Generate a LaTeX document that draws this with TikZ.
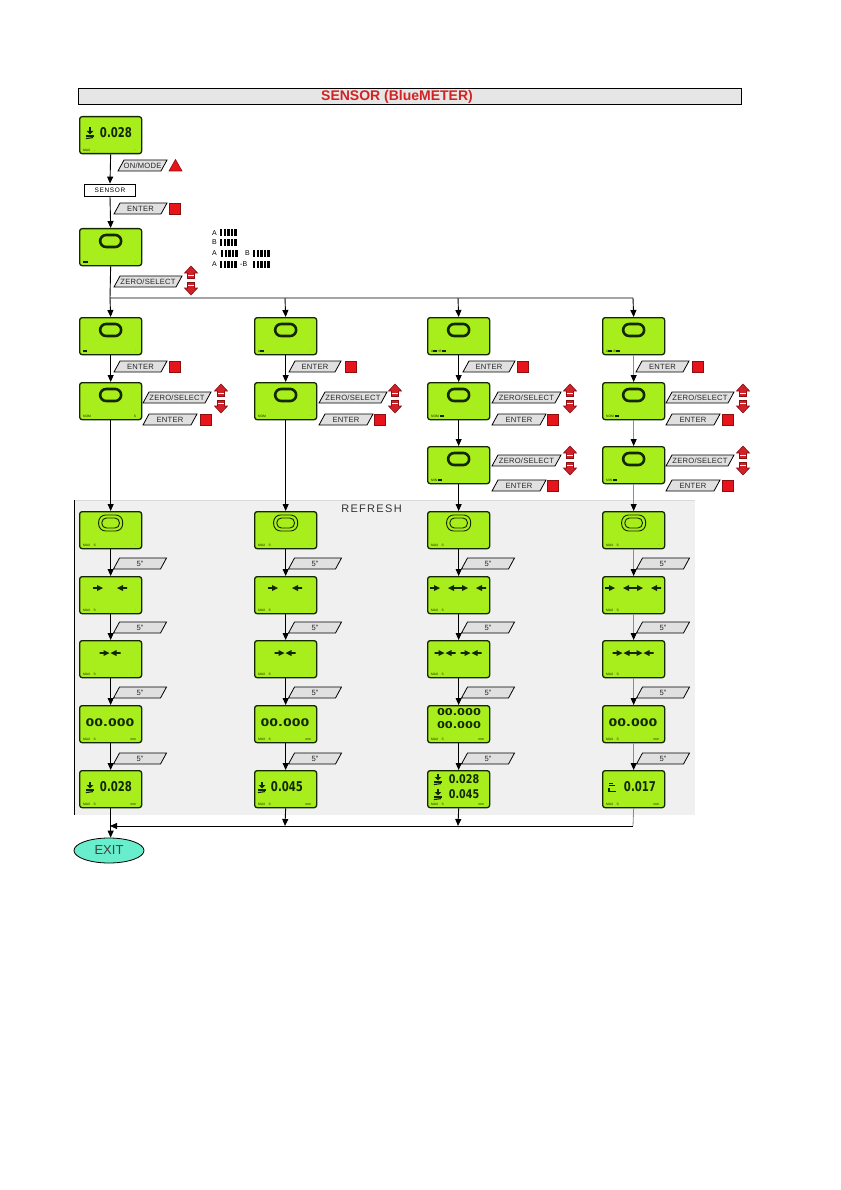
\documentclass[tikz,border=0pt]{standalone}
\usepackage{fontspec}
\setmainfont{Liberation Sans}
\newfontfamily\lcdfont{DejaVu Sans}
\usetikzlibrary{arrows.meta,calc,shapes.geometric}
\definecolor{lcd}{HTML}{A8EE1C}
\definecolor{lcdline}{HTML}{132800}
\definecolor{btngray}{HTML}{E0E0E0}
\definecolor{keyred}{HTML}{E8141B}
\definecolor{keyred2}{HTML}{D0202A}
\definecolor{keydark}{HTML}{8A1010}
\definecolor{hdrgray}{HTML}{E6E6E6}
\definecolor{hdrred}{HTML}{D42222}
\definecolor{refgray}{HTML}{F0F0F0}
\definecolor{exitc}{HTML}{68EECC}
\definecolor{linegray}{HTML}{8C8C8C}
\tikzset{
 lcdbox/.style={draw=lcdline, fill=lcd, line width=1.3pt, rounded corners=2.5pt, minimum width=62pt, minimum height=37pt, inner sep=0pt, anchor=north west},
 flow/.style={line width=0.9pt, -{Triangle[length=7pt,width=6pt]}},
 flowg/.style={line width=0.8pt, draw=linegray, -{Triangle[length=7pt,width=6pt,color=black]}},
 plain/.style={line width=0.9pt},
 btnshape/.style={draw=black, fill=btngray, line width=0.8pt},
 btntext/.style={font=\fontsize{7.6}{8}\selectfont\addfontfeatures{LetterSpace=3}, text=black!85, inner sep=0pt},
 keysq/.style={draw=keydark, fill=keyred, line width=0.6pt, minimum size=11pt, inner sep=0pt, anchor=north west},
 tinytxt/.style={font=\fontsize{3.3}{4}\selectfont, text=lcdline, inner sep=0pt},
 ovalst/.style={draw=lcdline, line width=2.6pt, rounded corners=6pt, minimum width=21pt, minimum height=12pt, inner sep=0pt},
 dov/.style={draw=lcdline, line width=0.9pt, inner sep=0pt},
 valtxt/.style={font=\lcdfont\bfseries\fontsize{13.5}{14}\selectfont, text=lcdline, inner sep=0pt},
 valsm/.style={font=\lcdfont\bfseries\fontsize{12}{12}\selectfont, text=lcdline, inner sep=0pt},
 zerotxt/.style={font=\lcdfont\bfseries\fontsize{10.5}{11}\selectfont, text=lcdline, inner sep=0pt},
 zerosm/.style={font=\lcdfont\bfseries\fontsize{9.5}{10}\selectfont, text=lcdline, inner sep=0pt},
 legtxt/.style={font=\fontsize{7}{8}\selectfont, inner sep=0pt, anchor=west},
}
\newcommand\tb{\rule{0.7pt}{2.3pt}\kern0.3pt}
\newcommand\lcd[3]{\node[lcdbox] (#1) at (#2,#3) {};}
\newcommand\ovl[1]{\node[ovalst] (#1ov) at ($(#1.north)+(0,13)$) {};}
\newcommand\dovl[1]{\node[dov, minimum width=24pt, minimum height=16pt, rounded corners=7pt] (#1ova) at ($(#1.north)+(0,12)$) {};%
 \node[dov, minimum width=17.5pt, minimum height=10pt, rounded corners=4.5pt] (#1ovb) at ($(#1.north)+(0,12)$) {};}
\newcommand\foot[3]{\node[tinytxt,anchor=south west] (#1fl) at ($(#1.south west)+(4,-3)$) {#2};%
 \node[tinytxt,anchor=south east] (#1fr) at ($(#1.south east)+(-6,-3)$) {#3};}
\newcommand\btn[5]{\draw[btnshape] (#2,#3+11) -- (#2+6,#3) -- (#2+#4,#3) -- (#2+#4-6,#3+11) -- cycle;%
 \node[btntext] (#1) at (#2+#4/2,#3+5.7) {#5};}
\newcommand\keysquare[3]{\node[keysq] (#1) at (#2,#3) {};}
\newcommand\updown[2]{%
 \filldraw[fill=keyred2, draw=keydark, line width=0.6pt] (#1,#2) -- (#1+6.5,#2+7) -- (#1+3.5,#2+7) -- (#1+3.5,#2+12.5) -- (#1-3.5,#2+12.5) -- (#1-3.5,#2+7) -- (#1-6.5,#2+7) -- cycle;
 \filldraw[fill=keyred2, draw=keydark, line width=0.6pt] (#1,#2+29) -- (#1+6.5,#2+22) -- (#1+3.5,#2+22) -- (#1+3.5,#2+16.5) -- (#1-3.5,#2+16.5) -- (#1-3.5,#2+22) -- (#1-6.5,#2+22) -- cycle;
 \fill[white] (#1-2.6,#2+8.8) rectangle (#1+2.6,#2+10);
 \fill[white] (#1-2.6,#2+19) rectangle (#1+2.6,#2+20.2);}
\newcommand\rA[2]{\fill[lcdline] (#1,#2) -- ++(-6,-3) -- ++(0,2.1) -- ++(-4,0) -- ++(0,1.8) -- ++(4,0) -- ++(0,2.1) -- cycle;}
\newcommand\lA[2]{\fill[lcdline] (#1,#2) -- ++(6,-3) -- ++(0,2.1) -- ++(4,0) -- ++(0,1.8) -- ++(-4,0) -- ++(0,2.1) -- cycle;}
\newcommand\probe[2]{%
 \fill[lcdline] (#1-1.1,#2-5.5) rectangle (#1+1.1,#2-1.5);
 \fill[lcdline] (#1-3.4,#2-2) -- (#1+3.4,#2-2) -- (#1,#2+1.4) -- cycle;
 \fill[lcdline] (#1-4.2,#2+2.3) rectangle (#1+4.2,#2+3.6);
 \draw[lcdline,line width=1.1pt] (#1-4.2,#2+5.6) -- (#1+3,#2+4.6);}
\newcommand\probeB[2]{%
 \fill[lcdline] (#1-3,#2-4.5) rectangle (#1+1,#2-3.3);
 \fill[lcdline] (#1-3,#2-2) rectangle (#1+3,#2-0.8);
 \draw[lcdline,line width=1.1pt] (#1-3,#2+1) -- (#1-3,#2+4.5) -- (#1+3.5,#2+4.5);}
\newcommand\bars[2]{\foreach \i in {0,...,4}{\fill (#1+\i*3.6,#2-3.5) rectangle ++(2.4,7);}}
\begin{document}
\begin{tikzpicture}[x=1pt,y=-1pt]
\useasboundingbox (0,0) rectangle (840,1190);
\fill[white] (0,0) rectangle (840,1190);
% refresh area
\fill[refgray] (74,500) rectangle (695,815);
\draw[draw=black!15, line width=0.5pt] (74,500) -- (695,500);
\draw[line width=0.8pt] (74,500) -- (74,815);
\node[font=\fontsize{11}{12}\selectfont\addfontfeatures{LetterSpace=12}, text=black!80, inner sep=0pt] (refresh) at (371.5,508.5) {REFRESH};
% header
\node[draw=black, line width=0.8pt, fill=hdrgray, minimum width=663pt, minimum height=16pt, anchor=north west, inner sep=0pt] (hdr) at (78,88) {};
\node[font=\bfseries\fontsize{14}{14}\selectfont, text=hdrred, inner sep=0pt] (hdrt) at (397,96.5) {SENSOR (BlueMETER)};
% top part
\lcd{d1}{79}{116}
\probe{90}{133}
\node[valtxt] (d1v) at (116,133) {\scalebox{0.75}[1]{0.028}};
\foot{d1}{MAX\quad ..}{.\,.}
\btn{bOM}{118}{160}{49}{ON/MODE}
\filldraw[fill=keyred, draw=keydark, line width=0.6pt] (169,171) -- (182,171) -- (175.5,159.5) -- cycle;
\node[draw, line width=0.8pt, fill=white, minimum width=51pt, minimum height=12pt, inner sep=0pt, font=\fontsize{6.5}{7}\selectfont\addfontfeatures{LetterSpace=10}] (sens) at (110,190) {SENSOR};
\btn{bE0}{114}{203}{53}{ENTER}
\keysquare{k0}{169}{203}
\lcd{d2}{79}{228}
\ovl{d2}
\foot{d2}{\tb\tb\tb\tb\tb}{.}
\btn{bZ0}{114}{276}{68}{ZERO/SELECT}
\updown{191}{266}
% legend
\node[legtxt] (lg1) at (212,233) {A}; \bars{220}{233}
\node[legtxt] (lg2) at (212,242.5) {B}; \bars{220}{242.5}
\node[legtxt] (lg3) at (212,253) {A}; \bars{221}{253}
\node[legtxt] (lg3b) at (245,253) {B}; \bars{253}{253}
\node[legtxt] (lg4) at (212,264) {A}; \bars{220}{264}
\node[legtxt] (lg4b) at (240,264) {-B}; \bars{253}{264}
% bus
\coordinate (b1) at (110,298);
\coordinate (b2) at (285,298);
\coordinate (b3) at (458,298);
\coordinate (b4) at (633,298);
\draw[flow] (d1.south) -- (sens.north);
\draw[flow] (sens.south) -- (d2.north);
\draw[plain] (d2.south) -- (b1) -- (b4);
% row a
\lcd{c1a}{79}{317} \ovl{c1a} \foot{c1a}{\tb\tb\tb\tb}{.}
\lcd{c2a}{254}{317} \ovl{c2a} \foot{c2a}{A\tb\tb\tb\tb}{.}
\lcd{c3a}{427}{317} \ovl{c3a} \foot{c3a}{A\tb\tb\tb\tb+B\tb\tb\tb\tb}{}
\lcd{c4a}{602}{317} \ovl{c4a} \foot{c4a}{A\tb\tb\tb\tb-B\tb\tb\tb\tb}{}
\draw[flow] (b1) -- (c1a.north);
\draw[flow] (b2) -- (c2a.north);
\draw[flow] (b3) -- (c3a.north);
\draw[flow] (b4) -- (c4a.north);
\btn{bE1}{114}{361}{53}{ENTER} \keysquare{k1}{169}{361}
\btn{bE2}{289}{361}{52}{ENTER} \keysquare{k2}{345}{361}
\btn{bE3}{463}{361}{52}{ENTER} \keysquare{k3}{517}{361}
\btn{bE4}{636}{361}{53}{ENTER} \keysquare{k4}{692}{361}
% row b
\lcd{c1b}{79}{382} \ovl{c1b} \foot{c1b}{NOM}{S}
\lcd{c2b}{254}{382} \ovl{c2b} \foot{c2b}{NOM}{.}
\lcd{c3b}{427}{382} \ovl{c3b} \foot{c3b}{NOM\ \tb\tb\tb\tb}{}
\lcd{c4b}{602}{382} \ovl{c4b} \foot{c4b}{NOM\ \tb\tb\tb\tb}{}
\draw[flow] (c1a.south) -- (c1b.north);
\draw[flow] (c2a.south) -- (c2b.north);
\draw[flow] (c3a.south) -- (c3b.north);
\draw[flowg] (c4a.south) -- (c4b.north);
\btn{bZ1}{143}{392}{68}{ZERO/SELECT} \updown{221}{384}
\btn{bF1}{143}{414}{54}{ENTER} \keysquare{kf1}{200}{414}
\btn{bZ2}{319}{392}{68}{ZERO/SELECT} \updown{395}{384}
\btn{bF2}{319}{414}{54}{ENTER} \keysquare{kf2}{374}{414}
\btn{bZ3}{492}{392}{69}{ZERO/SELECT} \updown{570}{384}
\btn{bF3}{492}{414}{54}{ENTER} \keysquare{kf3}{547}{414}
\btn{bZ4}{666}{392}{68}{ZERO/SELECT} \updown{743}{384}
\btn{bF4}{666}{414}{54}{ENTER} \keysquare{kf4}{722}{414}
% row c (cols 3,4)
\lcd{c3c}{427}{446} \ovl{c3c} \foot{c3c}{MIN\ \tb\tb\tb\tb}{}
\lcd{c4c}{602}{446} \ovl{c4c} \foot{c4c}{MIN\ \tb\tb\tb\tb}{}
\draw[flow] (c3b.south) -- (c3c.north);
\draw[flowg] (c4b.south) -- (c4c.north);
\btn{bZ5}{492}{455}{69}{ZERO/SELECT} \updown{570}{446}
\btn{bF5}{492}{480}{54}{ENTER} \keysquare{kf5}{547}{480}
\btn{bZ6}{666}{455}{68}{ZERO/SELECT} \updown{743}{446}
\btn{bF6}{666}{480}{54}{ENTER} \keysquare{kf6}{722}{480}
% refresh displays
\foreach \c/\x in {1/79,2/254,3/427,4/602}{
 \lcd{r\c a}{\x}{511}
 \lcd{r\c b}{\x}{576}
 \lcd{r\c c}{\x}{640}
 \lcd{r\c d}{\x}{705}
 \lcd{r\c e}{\x}{770}
 \dovl{r\c a}
 \foot{r\c a}{MAX\quad S}{.}
 \foot{r\c b}{MAX\quad S}{.}
 \foot{r\c c}{MAX\quad S}{.}
 \foot{r\c d}{MAX\quad S}{mm}
 \foot{r\c e}{MAX\quad S}{mm}
 \btn{t\c a}{\x+34.5}{558}{53}{5"}
 \btn{t\c b}{\x+34.5}{622}{53}{5"}
 \btn{t\c c}{\x+34.5}{687}{53}{5"}
 \btn{t\c d}{\x+34.5}{753}{53}{5"}
}
% row B arrows
\rA{103}{588} \lA{117}{588}
\rA{278}{588} \lA{292}{588}
\rA{440}{588} \lA{448}{588} \rA{468}{588} \lA{476}{588}
\rA{615}{588} \lA{623}{588} \rA{643}{588} \lA{651}{588}
% row C arrows
\rA{109.5}{653} \lA{110.5}{653}
\rA{284.5}{653} \lA{285.5}{653}
\rA{444.5}{653} \lA{445.5}{653} \rA{470.5}{653} \lA{471.5}{653}
\rA{622.5}{653} \lA{623.5}{653} \rA{642.5}{653} \lA{643.5}{653}
% row D
\node[zerotxt] (r1dv) at (110,723) {\scalebox{1.2}[1]{00.000}};
\node[zerotxt] (r2dv) at (285,723) {\scalebox{1.2}[1]{00.000}};
\node[zerosm] (r3dv) at (459,712) {\scalebox{1.2}[1]{00.000}};
\node[zerosm] (r3dw) at (459,725) {\scalebox{1.2}[1]{00.000}};
\node[zerotxt] (r4dv) at (633,723) {\scalebox{1.2}[1]{00.000}};
% row E
\probe{90}{787}
\node[valtxt] (r1ev) at (116,787) {\scalebox{0.75}[1]{0.028}};
\probe{262}{787}
\node[valtxt] (r2ev) at (287,787) {\scalebox{0.75}[1]{0.045}};
\probe{438}{779}
\node[valsm] (r3ev) at (464,779) {\scalebox{0.8}[1]{0.028}};
\probe{438}{794}
\node[valsm] (r3ew) at (464,794) {\scalebox{0.8}[1]{0.045}};
\probeB{612}{787}
\node[valtxt] (r4ev) at (640,787) {\scalebox{0.75}[1]{0.017}};
% connectors
\draw[flow] (c1b.south) -- (r1a.north);
\draw[flow] (c2b.south) -- (r2a.north);
\draw[flow] (c3c.south) -- (r3a.north);
\draw[flowg] (c4c.south) -- (r4a.north);
\foreach \c in {1,2,3}{
 \draw[flow] (r\c a.south) -- (r\c b.north);
 \draw[flow] (r\c b.south) -- (r\c c.north);
 \draw[flow] (r\c c.south) -- (r\c d.north);
 \draw[flow] (r\c d.south) -- (r\c e.north);
}
\draw[flowg] (r4a.south) -- (r4b.north);
\draw[flowg] (r4b.south) -- (r4c.north);
\draw[flowg] (r4c.south) -- (r4d.north);
\draw[flowg] (r4d.south) -- (r4e.north);
\coordinate (j1) at (110,826);
\coordinate (j2) at (285,826);
\coordinate (j3) at (458,826);
\coordinate (j4) at (633,826);
\node[ellipse, draw=black, line width=0.8pt, fill=exitc, minimum width=70pt, minimum height=25pt, inner sep=0pt, font=\fontsize{13}{14}\selectfont, text=black!75] (exit) at (109,850.5) {EXIT};
\draw[flow] (r1e.south) -- (r1e.south |- exit.north);
\draw[flow] (r2e.south) -- (j2);
\draw[flow] (r3e.south) -- (j3);
\draw[line width=0.8pt, draw=linegray] (r4e.south) -- (j4);
\draw[flow] (j4) -- (j1);
\end{tikzpicture}
\end{document}
